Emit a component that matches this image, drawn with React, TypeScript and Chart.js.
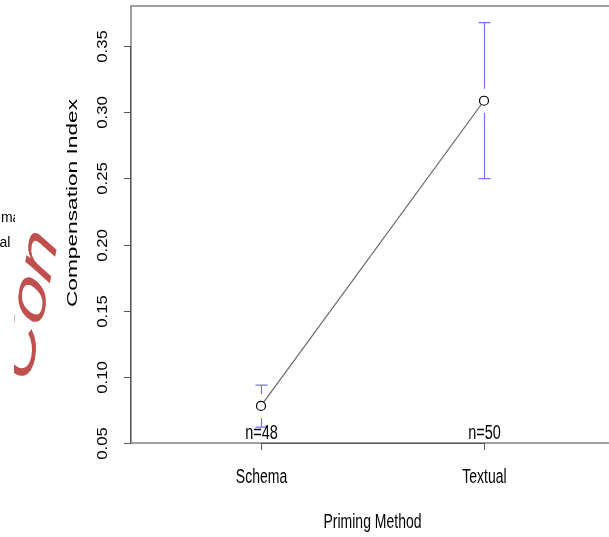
import React, { useEffect, useRef } from "react";
import { Chart, registerables } from "chart.js";

Chart.register(...registerables);

const categories = ["Schema", "Textual"];
const means = [0.078, 0.3087];
const ciUpper = [0.0938, 0.3677];
const ciLower = [0.062, 0.2498];
const counts = [48, 50];
const yTicks = [0.05, 0.1, 0.15, 0.2, 0.25, 0.3, 0.35];
const legendLabels = ["Schema", "Textual"];
const xTitle = "Priming Method";
const yTitle = "Compensation Index";
const decoText = "Con";

const SANS = '"Liberation Sans", Arial, Helvetica, sans-serif';
const STRETCH = 1.4;

function hText(ctx: any, text: string, x: number, y: number, size: number) {
  ctx.save();
  ctx.translate(x, y);
  ctx.scale(1, STRETCH);
  ctx.font = size + "px " + SANS;
  ctx.textAlign = "center";
  ctx.textBaseline = "middle";
  ctx.fillText(text, 0, 0);
  ctx.restore();
}

function vText(ctx: any, text: string, x: number, y: number, size: number, stretch: number) {
  ctx.save();
  ctx.translate(x, y);
  ctx.scale(1, stretch);
  ctx.rotate(-Math.PI / 2);
  ctx.font = size + "px " + SANS;
  ctx.textAlign = "center";
  ctx.textBaseline = "middle";
  ctx.fillText(text, 0, 0);
  ctx.restore();
}

const rPlot = {
  id: "rPlot",
  afterDraw(chart: any) {
    const { ctx, chartArea, scales } = chart;
    const xs = scales.x;
    const ys = scales.y;
    const L = chartArea.left;
    const T = chartArea.top;
    const B = chartArea.bottom;
    const R = chartArea.right;

    ctx.save();
    // box
    ctx.strokeStyle = "#808080";
    ctx.lineWidth = 1.5;
    ctx.beginPath();
    ctx.moveTo(R + 5, T);
    ctx.lineTo(L, T);
    ctx.lineTo(L, B);
    ctx.lineTo(R + 5, B);
    ctx.stroke();

    // error bars
    ctx.strokeStyle = "rgba(100,100,255,0.9)";
    ctx.lineWidth = 1.2;
    const gap = 12;
    const cap = 6;
    categories.forEach((_, i) => {
      const px = Math.round(xs.getPixelForValue(i + 1)) + 0.5;
      const pm = ys.getPixelForValue(means[i]);
      const pu = ys.getPixelForValue(ciUpper[i]);
      const pl = ys.getPixelForValue(ciLower[i]);
      ctx.beginPath();
      ctx.moveTo(px, pu);
      ctx.lineTo(px, pm - gap);
      ctx.moveTo(px, pm + gap);
      ctx.lineTo(px, pl);
      ctx.moveTo(px - cap, pu);
      ctx.lineTo(px + cap, pu);
      ctx.moveTo(px - cap, pl);
      ctx.lineTo(px + cap, pl);
      ctx.stroke();
    });

    // y axis ticks & labels
    ctx.strokeStyle = "#555";
    ctx.lineWidth = 1;
    ctx.fillStyle = "#000";
    ctx.beginPath();
    ctx.moveTo(L - 0.5, ys.getPixelForValue(yTicks[0]));
    ctx.lineTo(L - 0.5, ys.getPixelForValue(yTicks[yTicks.length - 1]));
    ctx.stroke();
    yTicks.forEach((v) => {
      const py = Math.round(ys.getPixelForValue(v)) + 0.5;
      ctx.beginPath();
      ctx.moveTo(L - 7, py);
      ctx.lineTo(L, py);
      ctx.stroke();
      vText(ctx, v.toFixed(2), 103, py, 14.5, 1.15);
    });

    // y title
    vText(ctx, yTitle, 73, 203, 14, 1.62);

    // x axis
    const x1 = xs.getPixelForValue(1);
    const x2 = xs.getPixelForValue(categories.length);
    ctx.strokeStyle = "#555";
    ctx.beginPath();
    ctx.moveTo(x1, B + 0.5);
    ctx.lineTo(x2, B + 0.5);
    ctx.stroke();
    categories.forEach((c, i) => {
      const px = Math.round(xs.getPixelForValue(i + 1)) + 0.5;
      ctx.beginPath();
      ctx.moveTo(px, B);
      ctx.lineTo(px, B + 7);
      ctx.stroke();
      hText(ctx, c, px, 478, 14);
      hText(ctx, "n=" + counts[i], px, B - 10, 14.5);
    });
    hText(ctx, xTitle, (x1 + x2) / 2, 523, 14);

    // clipped legend fragment
    ctx.save();
    ctx.beginPath();
    ctx.rect(0, 0, 15, 537);
    ctx.clip();
    ctx.font = "14px " + SANS;
    ctx.textAlign = "left";
    ctx.textBaseline = "alphabetic";
    ctx.fillText(legendLabels[0], -31, 222);
    ctx.fillText(legendLabels[1], -34, 247);
    ctx.restore();

    // red decorative text fragment
    ctx.save();
    ctx.beginPath();
    ctx.rect(14, 0, 50, 537);
    ctx.clip();
    ctx.translate(30, 306);
    ctx.scale(1, 1.6);
    ctx.rotate((-72 * Math.PI) / 180);
    ctx.font = "italic 52px " + SANS;
    ctx.fillStyle = "#c0504d";
    ctx.textAlign = "center";
    ctx.textBaseline = "middle";
    ctx.fillText(decoText, 0, 0);
    ctx.restore();

    ctx.restore();
  },
};

export default function App() {
  const ref = useRef<HTMLCanvasElement | null>(null);
  useEffect(() => {
    if (!ref.current) return;
    const pxPerUnit = 223;
    const xMin = 1 - 130 / pxPerUnit;
    const xMax = xMin + 478 / pxPerUnit;
    const chart = new Chart(ref.current, {
      type: "line",
      data: {
        datasets: [
          {
            data: means.map((m, i) => ({ x: i + 1, y: m })),
            borderColor: "#666",
            borderWidth: 1.2,
            pointRadius: 4.5,
            pointBorderColor: "#000",
            pointBackgroundColor: "rgba(255,255,255,1)",
            pointBorderWidth: 1.2,
            tension: 0,
          },
        ],
      },
      options: {
        responsive: false,
        animation: false,
        layout: { autoPadding: false, padding: { left: 131, top: 6, right: 0, bottom: 94 } },
        plugins: { legend: { display: false }, tooltip: { enabled: false } },
        scales: {
          x: { type: "linear", min: xMin, max: xMax, display: false },
          y: { type: "linear", min: 0.05, max: 0.3803, display: false },
        },
      },
      plugins: [rPlot],
    });
    return () => chart.destroy();
  }, []);
  return (
    <div style={{ position: "fixed", left: 0, top: 0, width: 609, height: 537, overflow: "hidden", background: "#fff" }}>
      <canvas ref={ref} width={609} height={537} style={{ display: "block" }} />
    </div>
  );
}
